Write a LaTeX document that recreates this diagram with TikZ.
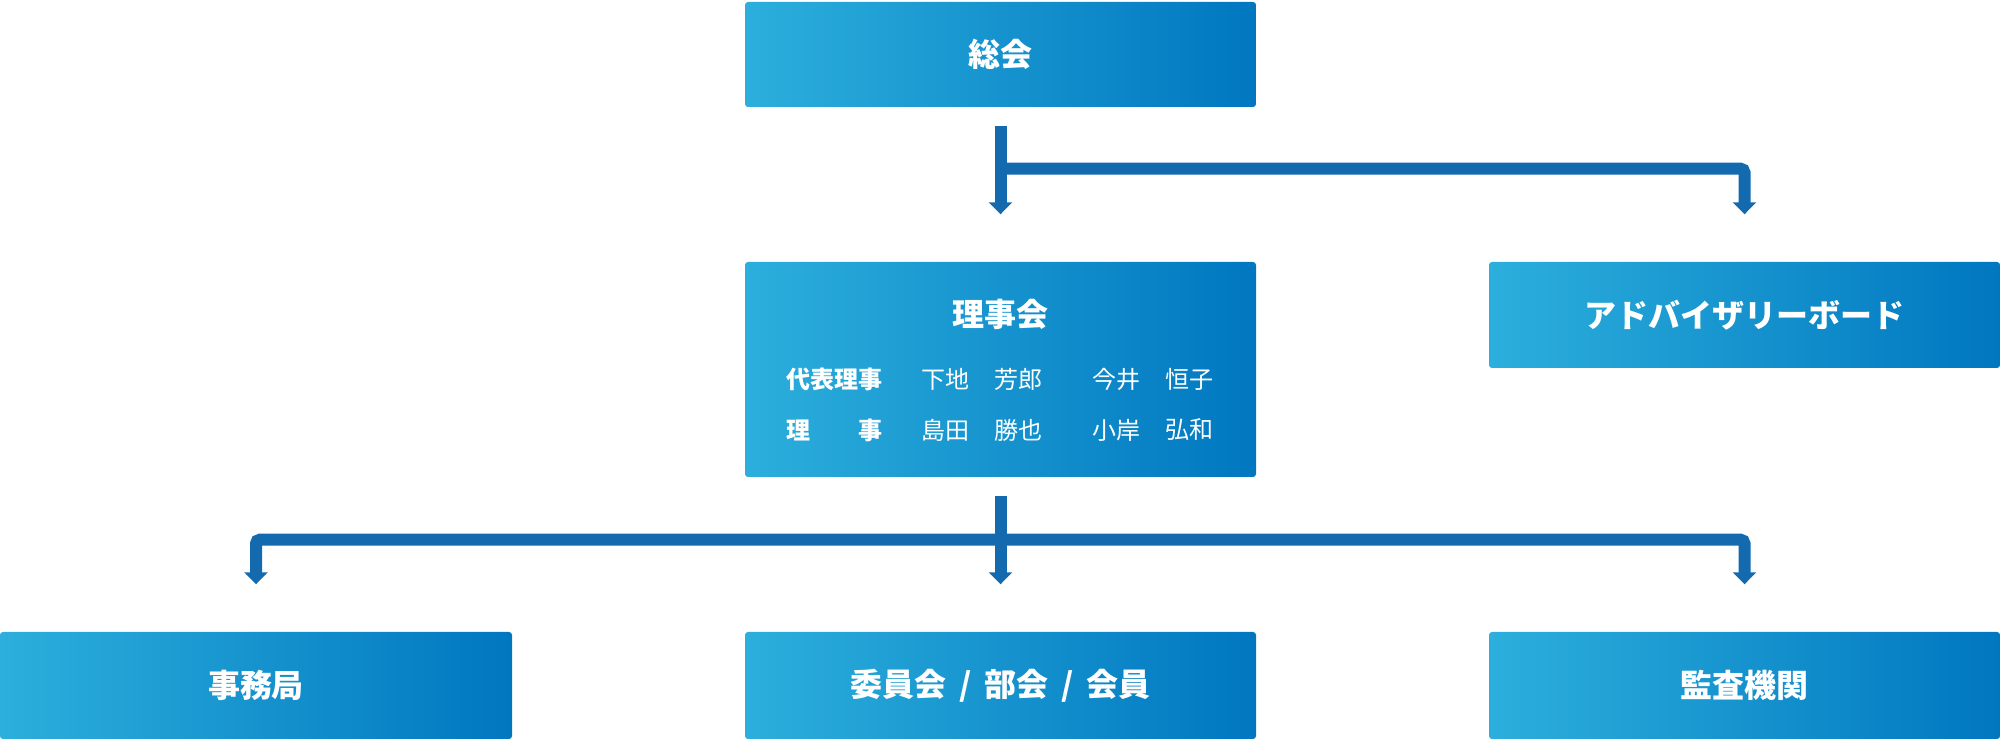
\documentclass[tikz,border=0pt]{standalone}
\usepackage{fontspec}
\setmainfont{Noto Sans CJK JP}
\usetikzlibrary{arrows.meta}
\definecolor{boxlight}{RGB}{44,175,220}
\definecolor{boxmid}{RGB}{12,157,212}
\definecolor{boxdark}{RGB}{0,119,192}
\definecolor{flowblue}{RGB}{20,106,175}
\tikzset{
  title/.style={text=white, font=\fontsize{9.1pt}{11pt}\selectfont\bfseries},
  orgbox/.style={title, rectangle, rounded corners=0.03cm, minimum width=5.11cm,
    minimum height=1.05cm, inner sep=0pt, left color=boxlight, middle color=boxmid,
    right color=boxdark},
  member/.style={anchor=west, inner sep=0pt, text=white, font=\fontsize{6.83pt}{8pt}\selectfont},
  role/.style={member, font=\fontsize{6.83pt}{8pt}\selectfont\bfseries},
  flow/.style={draw=flowblue, line width=0.12cm, rounded corners=0.04cm,
    -{Triangle[width=0.23cm,length=0.12cm]}}
}
\begin{document}
\begin{tikzpicture}
      \useasboundingbox (0,0) rectangle (20,7.39);
      \node[orgbox] (soukai) at (10.005,6.845) {総会};
      \node[orgbox, minimum height=2.15cm] (riji) at (10.005,3.695) {};
      \node[title] (rijititle) at (10.005,4.25) {理事会};
      \node[orgbox, minimum height=1.06cm] (advisory) at (17.445,4.24) {アドバイザリーボード};
      \node[orgbox, minimum width=5.12cm, minimum height=1.07cm] (jimu) at (2.56,0.535) {事務局};
      \node[orgbox, minimum height=1.07cm] (iinkai) at (10.005,0.535)
        {委員会\hspace{0.4em}/\hspace{0.4em}部会\hspace{0.4em}/\hspace{0.4em}会員};
      \node[orgbox, minimum height=1.07cm] (kansa) at (17.445,0.535) {監査機関};
      \node[role] (daihyo) at (7.86,3.60) {代表理事};
      \node[member] (daihyo1) at (9.21,3.60) {下地};
      \node[member] (daihyo2) at (9.94,3.60) {芳郎};
      \node[member] (daihyo3) at (10.92,3.60) {今井};
      \node[member] (daihyo4) at (11.65,3.60) {恒子};
      \node[role] (rijimember) at (7.86,3.09) {理\hspace{2em}事};
      \node[member] (rijimember1) at (9.21,3.09) {島田};
      \node[member] (rijimember2) at (9.94,3.09) {勝也};
      \node[member] (rijimember3) at (10.92,3.09) {小岸};
      \node[member] (rijimember4) at (11.65,3.09) {弘和};
      \begin{scope}[flow]
        \draw ([yshift=-0.18cm]soukai.south) -- ([yshift=0.47cm]riji.north);
        \draw ([yshift=-0.61cm]soukai.south) -| ([yshift=0.47cm]advisory.north);
        \draw ([yshift=-0.18cm]riji.south) -- ([yshift=0.47cm]iinkai.north);
        \draw ([yshift=-0.62cm]riji.south) -| ([yshift=0.47cm]jimu.north);
        \draw ([yshift=-0.62cm]riji.south) -| ([yshift=0.47cm]kansa.north);
      \end{scope}
    \end{tikzpicture}
\end{document}
